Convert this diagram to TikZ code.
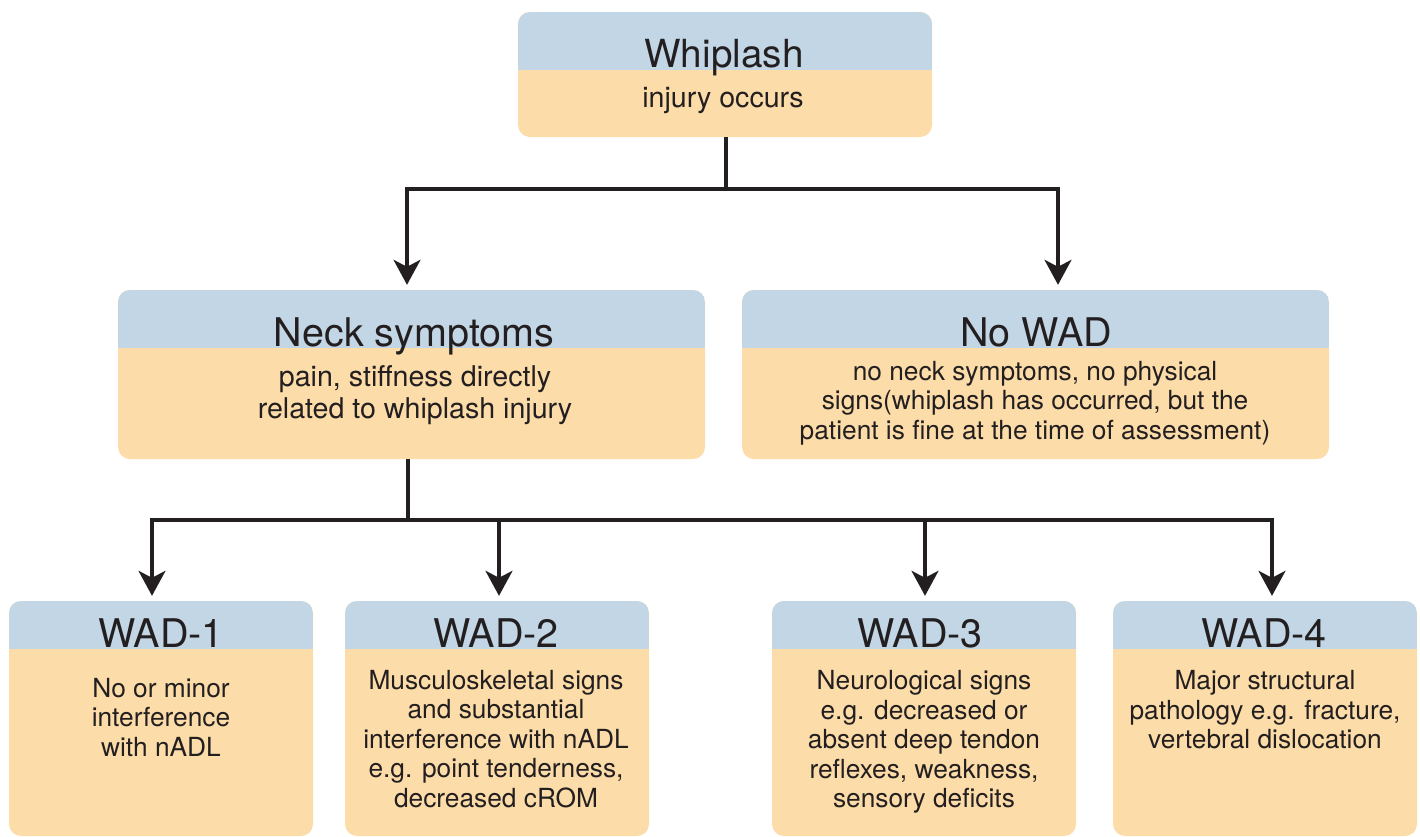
\documentclass[tikz,border=0pt]{standalone}
\usepackage{fontspec}
\setmainfont{TeX Gyre Heros}
\usetikzlibrary{arrows.meta}
\definecolor{bandblue}{HTML}{C3D6E5}
\definecolor{boxorange}{HTML}{FCDCA8}
\definecolor{ink}{HTML}{231F20}
\tikzset{
  box/.style 2 args={rectangle, rounded corners=12pt, fill=boxorange, draw=none, inner sep=0pt,
    minimum width=#1, minimum height=#2},
  band/.style={path picture={\fill[bandblue, sharp corners] (path picture bounding box.north west) rectangle ([yshift=-#1]path picture bounding box.north east);}},
  ttl/.style={anchor=base, inner sep=0pt, text=ink, font=\fontsize{39.5}{42}\selectfont},
  bodytxt/.style={anchor=center, inner sep=0pt, text=ink, align=center, font=\fontsize{26.3}{29.5}\selectfont},
  bigbody/.style={bodytxt, font=\fontsize{28.6}{32}\selectfont},
  conn/.style={draw=ink, line width=3.2pt},
  arr/.style={conn, -{Stealth[length=25pt,width=27pt,inset=7pt]}, shorten >=5pt},
}
\begin{document}
\begin{tikzpicture}[x=1pt,y=-1pt]
\useasboundingbox (0,0) rectangle (1420,836);
% boxes
\node[box={414pt}{125pt}, band=58pt] (whip) at (725,74.5) {};
\node[box={587pt}{169pt}, band=58pt] (neck) at (411.5,374.5) {};
\node[box={587pt}{169pt}, band=58pt] (nowad) at (1035.5,374.5) {};
\node[box={304pt}{235pt}, band=48pt] (w1) at (161,718.5) {};
\node[box={304pt}{235pt}, band=48pt] (w2) at (497,718.5) {};
\node[box={304pt}{235pt}, band=48pt] (w3) at (924,718.5) {};
\node[box={304pt}{235pt}, band=48pt] (w4) at (1265,718.5) {};
% titles
\node[ttl, font=\fontsize{38.7}{42}\selectfont] (whipT) at (724,67) {Whiplash};
\node[ttl] (neckT) at (414,346) {Neck symptoms};
\node[ttl] (nowadT) at (1036,346) {No WAD};
\node[ttl] (w1T) at (161,647) {WAD-1};
\node[ttl] (w2T) at (496,647) {WAD-2};
\node[ttl] (w3T) at (920,647) {WAD-3};
\node[ttl] (w4T) at (1264,647) {WAD-4};
% bodies
\node[bigbody] (whipB) at (723,101) {injury occurs};
\node[bigbody] (neckB) at (415,395) {pain, stiffness directly\\related to whiplash injury};
\node[bodytxt] (nowadB) at (1035,403) {no neck symptoms, no physical\\signs(whiplash has occurred, but the\\patient is fine at the time of assessment)};
\node[bodytxt] (w1B) at (161,717) {No or minor\\interference\\with nADL};
\node[bodytxt] (w2B) at (496,739) {Musculoskeletal signs\\and substantial\\interference with nADL\\e.g. point tenderness,\\decreased cROM};
\node[bodytxt] (w3B) at (924,742) {Neurological signs\\e.g. decreased or\\absent deep tendon\\reflexes, weakness,\\sensory deficits};
\node[bodytxt] (w4B) at (1265,710) {Major structural\\pathology e.g. fracture,\\vertebral dislocation};
% connectors
\coordinate (j1) at (726,189);
\draw[conn] ([xshift=1pt]whip.south) -- (j1);
\draw[arr] (j1) -| ([xshift=-4.5pt]neck.north);
\draw[arr] (j1) -| ([xshift=22.5pt]nowad.north);
\coordinate (j2) at (408,520);
\draw[conn] ([xshift=-3.5pt]neck.south) -- (j2);
\draw[arr] (j2) -| ([xshift=-9pt]w1.north);
\draw[arr] (j2) -| ([xshift=2pt]w2.north);
\draw[arr] (j2) -| ([xshift=1pt]w3.north);
\draw[arr] (j2) -| ([xshift=7pt]w4.north);
\end{tikzpicture}
\end{document}
